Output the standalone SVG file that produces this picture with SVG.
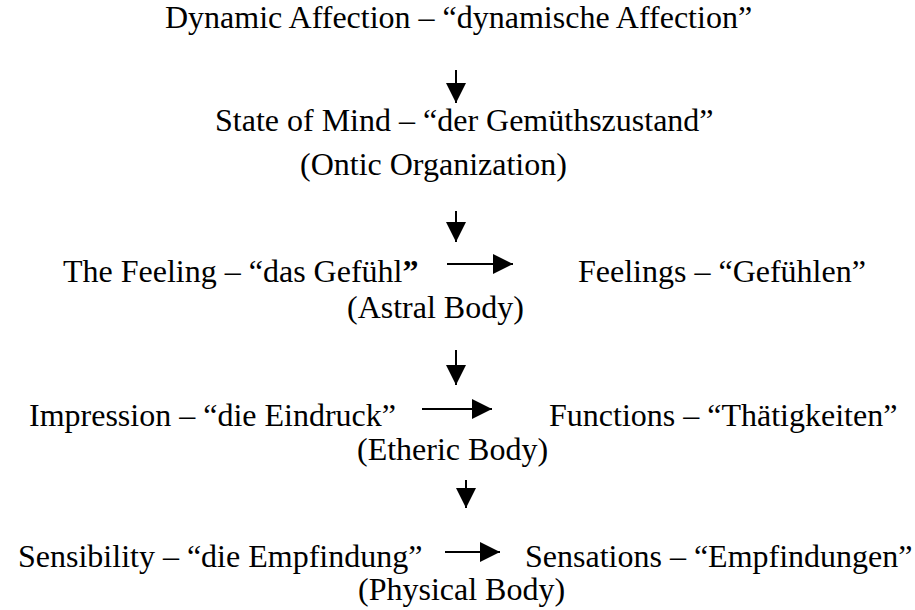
<svg xmlns="http://www.w3.org/2000/svg" width="915" height="610" viewBox="0 0 915 610">
<defs>
<marker id="ah" viewBox="0 0 20 20" refX="20" refY="10" markerWidth="20" markerHeight="20" orient="auto" markerUnits="userSpaceOnUse"><path d="M0,0 L20,10 L0,20 Z" fill="#000"/></marker>
</defs>
<g id="n1"><text font-family="Liberation Serif" font-size="32" x="165" y="28">Dynamic Affection – “dynamische Affection”</text></g>
<g id="n2"><text font-family="Liberation Serif" font-size="32" x="215" y="131">State of Mind – “der Gemüthszustand”</text><text font-family="Liberation Serif" font-size="32" x="300" y="175">(Ontic Organization)</text></g>
<g id="n3"><text font-family="Liberation Serif" font-size="32" x="63" y="282">The Feeling – “das Gefühl<tspan font-weight="bold">”</tspan></text><text font-family="Liberation Serif" font-size="32" x="347" y="318">(Astral Body)</text></g>
<g id="n4"><text font-family="Liberation Serif" font-size="32" x="578" y="282">Feelings – “Gefühlen”</text></g>
<g id="n5"><text font-family="Liberation Serif" font-size="32" x="29" y="426">Impression – “die Eindruck”</text><text font-family="Liberation Serif" font-size="32" x="357" y="460">(Etheric Body)</text></g>
<g id="n6"><text font-family="Liberation Serif" font-size="32" x="549" y="426">Functions – “Thätigkeiten”</text></g>
<g id="n7"><text font-family="Liberation Serif" font-size="32" x="18" y="567">Sensibility – “die Empfindung”</text><text font-family="Liberation Serif" font-size="32" x="358" y="600">(Physical Body)</text></g>
<g id="n8"><text font-family="Liberation Serif" font-size="32" x="525" y="567">Sensations – “Empfindungen”</text></g>
<g id="connectors" stroke="#000" stroke-width="2">
<line x1="456" y1="70" x2="456" y2="103" marker-end="url(#ah)"/>
<line x1="456" y1="211" x2="456" y2="242" marker-end="url(#ah)"/>
<line x1="456" y1="350" x2="456" y2="385" marker-end="url(#ah)"/>
<line x1="466" y1="480" x2="466" y2="508" marker-end="url(#ah)"/>
<line x1="447" y1="264" x2="513" y2="264" marker-end="url(#ah)"/>
<line x1="422" y1="409" x2="492" y2="409" marker-end="url(#ah)"/>
<line x1="445" y1="552" x2="500" y2="552" marker-end="url(#ah)"/>
</g>
</svg>
